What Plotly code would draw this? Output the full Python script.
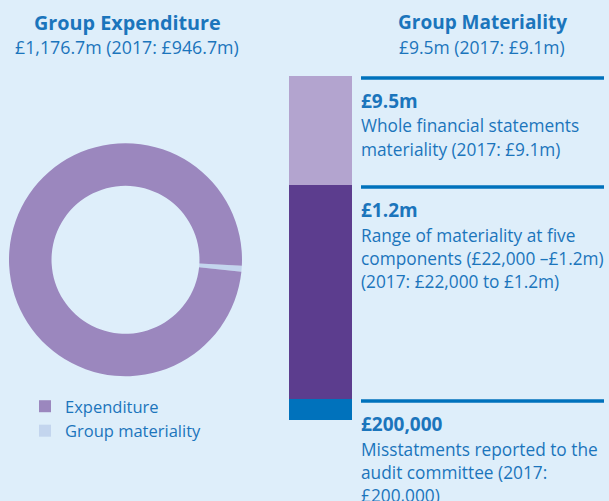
import plotly.graph_objects as go

# ---- data ----
pie_labels = ["Group materiality", "Expenditure"]
pie_values = [9.5, 1176.7]
pie_colors = ["#c3d5ee", "#9b87be"]

# stacked bar segments (bottom -> top), display share of bar height
seg_names = ["£200,000", "£1.2m", "£9.5m"]
seg_sizes = [6.1, 62.2, 31.7]
seg_colors = ["#0072bc", "#5c3d8e", "#b3a4cf"]
seg_desc = [
    ["Misstatments reported to the", "audit committee (2017:", "£200,000)"],
    ["Range of materiality at five", "components (£22,000 –£1.2m)", "(2017: £22,000 to £1.2m)"],
    ["Whole financial statements", "materiality (2017: £9.1m)"],
]

left_title = "Group Expenditure"
left_sub = "£1,176.7m (2017: £946.7m)"
right_title = "Group Materiality"
right_sub = "£9.5m (2017: £9.1m)"

W, H = 609, 501
BG = "#deeefa"
TXT = "#1b75bc"
FONT = "Open Sans"

def px(x):
    return x / W

def py(y):
    return 1 - y / H

fig = go.Figure()

fig.add_trace(go.Pie(
    labels=pie_labels, values=pie_values, sort=False, direction="clockwise",
    rotation=93, hole=0.635, textinfo="none", hoverinfo="label+value",
    marker=dict(colors=pie_colors, line=dict(width=0)),
    domain=dict(x=[px(9), px(242)], y=[py(376.5), py(143)]),
    showlegend=True,
))

for name, size, col in zip(seg_names, seg_sizes, seg_colors):
    fig.add_trace(go.Bar(
        x=["Materiality"], y=[size], name=name, marker=dict(color=col, line=dict(width=0)),
        showlegend=False, hoverinfo="name",
    ))

total = sum(seg_sizes)
bar_top_px, bar_bot_px = 76, 420
unit_px = (bar_bot_px - bar_top_px) / total

shapes = []
annotations = []
cum = 0
for name, size, desc in zip(seg_names, seg_sizes, seg_desc):
    cum += size
    ytop = bar_bot_px - cum * unit_px  # pixel of segment top
    line_y = ytop + 2
    shapes.append(dict(type="line", xref="paper", yref="paper",
                       x0=px(361), x1=px(604), y0=py(line_y), y1=py(line_y),
                       line=dict(color="#0072bc", width=3.5)))
    annotations.append(dict(text="<b>" + name + "</b>", x=px(359), y=py(ytop + 25),
                            xref="paper", yref="paper", xanchor="left", yanchor="middle",
                            showarrow=False, font=dict(size=19, color=TXT, family=FONT)))
    for i, line in enumerate(desc):
        annotations.append(dict(text=line, x=px(359), y=py(ytop + 50 + 23 * i),
                                xref="paper", yref="paper", xanchor="left", yanchor="middle",
                                showarrow=False, font=dict(size=17.3, color=TXT, family=FONT)))

for txt, x, y, bold, size in [
    (left_title, 127, 22, True, 19.8),
    (left_sub, 127, 47, False, 17.8),
    (right_title, 482, 22, True, 19),
    (right_sub, 482, 47, False, 17.5),
]:
    annotations.append(dict(text=("<b>%s</b>" % txt) if bold else txt, x=px(x), y=py(y),
                            xref="paper", yref="paper", xanchor="center", yanchor="middle",
                            showarrow=False, font=dict(size=size, color=TXT, family=FONT)))

fig.update_layout(
    width=W, height=H, margin=dict(l=0, r=0, t=0, b=0),
    paper_bgcolor=BG, plot_bgcolor=BG,
    barmode="stack", bargap=0,
    xaxis=dict(domain=[px(289), px(352)], visible=False, fixedrange=True),
    yaxis=dict(domain=[py(bar_bot_px), py(bar_top_px)], range=[0, total], visible=False, fixedrange=True),
    shapes=shapes, annotations=annotations,
    legend=dict(x=px(25), y=py(389), xanchor="left", yanchor="top", bgcolor="rgba(0,0,0,0)",
                font=dict(size=16.5, color=TXT, family=FONT), traceorder="reversed",
                tracegroupgap=0, itemwidth=30),
    font=dict(family=FONT, color=TXT),
)

fig.write_html("out.html", config={"displayModeBar": False},
               post_script="document.body.style.margin='0';document.body.style.overflow='hidden';document.body.style.background='%s';" % BG)
